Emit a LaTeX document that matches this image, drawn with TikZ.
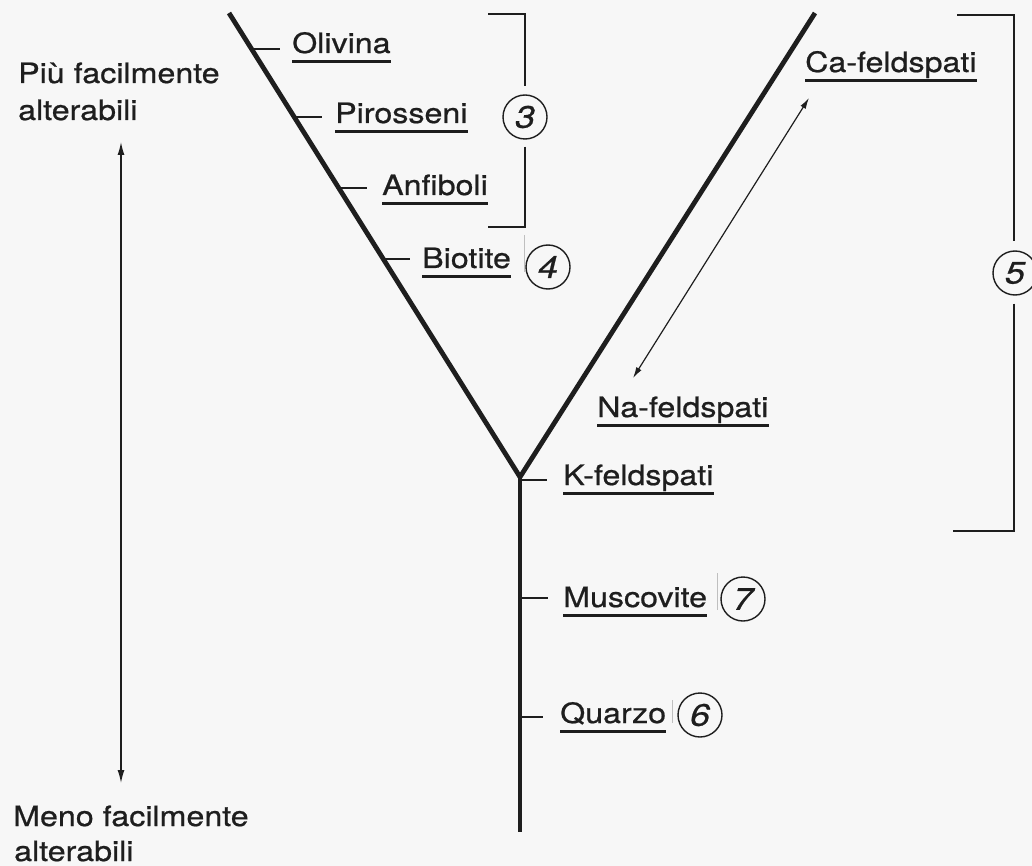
\documentclass[tikz,border=0pt]{standalone}
\usepackage{fontspec}
\setmainfont[FakeStretch=1.15,FakeBold=0.7]{TeX Gyre Heros}
\usetikzlibrary{arrows.meta,calc}
\definecolor{bg}{HTML}{F7F7F7}
\definecolor{ink}{HTML}{1E1E1E}
\begin{document}
\begin{tikzpicture}[x=1pt,y=-1pt,
  lbl/.style={anchor=base west,inner sep=0pt,font=\fontsize{28}{37}\selectfont,text=ink},
  num/.style={circle,draw=ink,line width=1.4pt,minimum size=44pt,inner sep=0pt,
              font=\fontsize{31}{34}\selectfont\itshape,text=ink},
  arm/.style={draw=ink,line width=4.8pt},
  tick/.style={draw=ink,line width=1.8pt},
  uline/.style={draw=ink,line width=2.8pt},
  brk/.style={draw=ink,line width=2pt},
  faint/.style={draw=black!25,line width=0.8pt},
  dbl/.style={draw=ink,line width=1.4pt,{Latex[length=13pt,width=7pt]}-{Latex[length=13pt,width=7pt]}},
  dbls/.style={draw=ink,line width=1.2pt,{Latex[length=11pt,width=6pt]}-{Latex[length=11pt,width=6pt]}}]
\fill[bg] (0,0) rectangle (1032,866);
\useasboundingbox (0,0) rectangle (1032,866);

% Y shape
\coordinate (lt) at (229,13);
\coordinate (rt) at (815,13);
\coordinate (j) at (520,477);
\coordinate (bot) at (520,832);
\draw[arm,line join=miter] (lt) -- (j) -- (rt);
\draw[arm] (j) -- (bot);

% labels
\node[lbl] (oli) at (292,53) {Olivina};
\node[lbl] (pir) at (335,123) {Pirosseni};
\node[lbl] (anf) at (382,195) {Anfiboli};
\node[lbl] (bio) at (422,268) {Biotite};
\node[lbl] (ca) at (805,72) {Ca-feldspati};
\node[lbl] (na) at (597,417) {Na-feldspati};
\node[lbl] (kf) at (563,485) {K-feldspati};
\node[lbl] (mus) at (563,607) {Muscovite};
\node[lbl] (qua) at (560,723) {Quarzo};

\foreach \n in {oli,pir,anf,bio,ca,na,kf,mus,qua}
  \draw[uline] ([yshift=-8.5pt]\n.base west) -- ([yshift=-8.5pt]\n.base east);

% ticks
\coordinate (toli) at (252,49);
\coordinate (tpir) at (295,117);
\coordinate (tanf) at (339,188);
\coordinate (tbio) at (383,259);
\coordinate (tkf) at (520,480);
\coordinate (tmus) at (520,598);
\coordinate (tqua) at (520,717);
\draw[tick] (toli) -- (toli -| {$(oli.base west)+(-12,0)$});
\draw[tick] (tpir) -- (tpir -| {$(pir.base west)+(-13,0)$});
\draw[tick] (tanf) -- (tanf -| {$(anf.base west)+(-15,0)$});
\draw[tick] (tbio) -- (tbio -| {$(bio.base west)+(-12,0)$});
\draw[tick] (tkf) -- (tkf -| {$(kf.base west)+(-16,0)$});
\draw[tick] (tmus) -- (tmus -| {$(mus.base west)+(-15,0)$});
\draw[tick] (tqua) -- (tqua -| {$(qua.base west)+(-17,0)$});

% numbered circles
\node[num] (c3) at (525,117) {3};
\node[num] (c4) at (548,267) {4};
\node[num] (c5) at (1015,273) {5};
\node[num] (c7) at (743,599) {7};
\node[num] (c6) at (700,715) {6};

% bracket 3
\coordinate (b3t) at (488,14);
\coordinate (b3b) at (488,227);
\draw[brk] (b3t) -| ([yshift=8pt]c3.north);
\draw[brk] ([yshift=-7pt]c3.south) |- (b3b);

% bracket 5
\coordinate (b5t) at (957,15);
\coordinate (b5b) at (953,531);
\draw[brk] (b5t) -| ([yshift=9pt]c5.north -| 1014,0);
\draw[brk] ([yshift=-8pt]c5.south -| 1014,0) |- (b5b);

% faint marks
\draw[faint] (524,235) -- (524,272);
\draw[faint] (717,573) -- (717,610);
\draw[faint] (672,700) -- (672,723);

% Na <-> Ca arrow
\coordinate (naA) at (633,378);
\coordinate (caA) at (809,98);
\draw[dbls] (naA) -- (caA);

% left scale
\node[lbl] (p1) at (18,83) {Più facilmente};
\node[lbl] (p2) at (18,120) {alterabili};
\node[lbl] (m1) at (13,826) {Meno facilmente};
\node[lbl] (m2) at (14,861) {alterabili};
\coordinate (sTop) at (121,142);
\coordinate (sBot) at (121,783);
\draw[dbl] (sTop) -- (sBot);
\end{tikzpicture}
\end{document}
